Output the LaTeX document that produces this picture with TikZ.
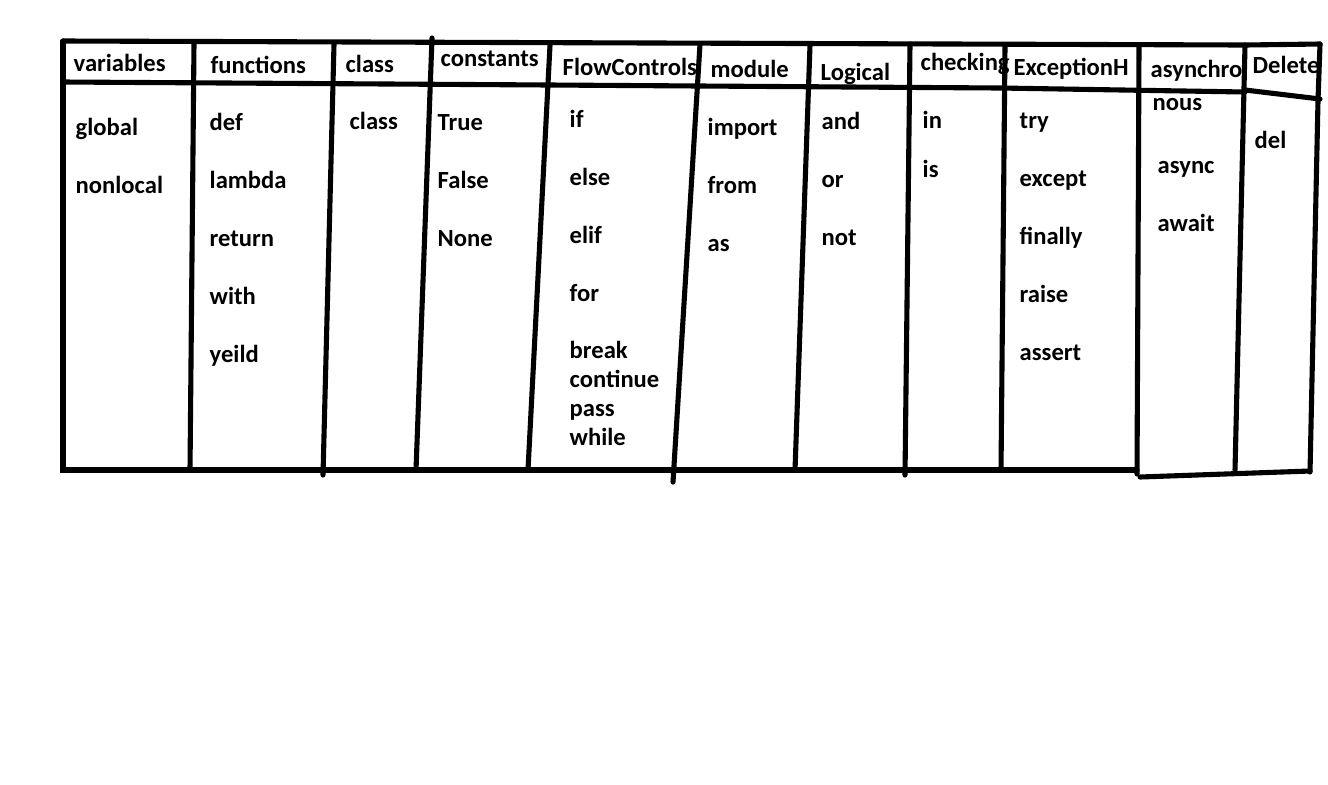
\documentclass[tikz,border=0pt]{standalone}
\usepackage{fontspec}
\setmainfont{Carlito}
\tikzset{
  word/.style={anchor=base west, inner sep=0pt, font=\bfseries\fontsize{7}{8}\selectfont},
  rule/.style={line width=1.45pt, line cap=round}
}
\begin{document}
\begin{tikzpicture}[x=0.01cm, y=-0.01cm]
    \useasboundingbox (0,0) rectangle (1328,784);
    % header row
    \node[word] (variables) at (73,71) {variables};
    \node[word] (functions) at (210,73) {functions};
    \node[word] (classhead) at (345,72) {class};
    \node[word] (constants) at (440,66) {constants};
    \node[word] (flowcontrols) at (562,75) {FlowControls};
    \node[word] (module) at (710,77) {module};
    \node[word] (logical) at (820,80) {Logical};
    \node[word] (checking) at (920,70) {checking};
    \node[word] (exceptionh) at (1013,75) {ExceptionH};
    \node[word] (asynchro) at (1150,77) {asynchro};
    \node[word] (delete) at (1252,73) {Delete};
    \node[word] (nous) at (1152,110) {nous};
    % variables
    \node[word] (global) at (75,135) {global};
    \node[word] (nonlocal) at (75,193) {nonlocal};
    % functions
    \node[word] (def) at (209,130) {def};
    \node[word] (lambda) at (209,188) {lambda};
    \node[word] (return) at (209,246) {return};
    \node[word] (with) at (209,304) {with};
    \node[word] (yeild) at (209,362) {yeild};
    % class
    \node[word] (classkw) at (349,129) {class};
    % constants
    \node[word] (true) at (437,130) {True};
    \node[word] (false) at (437,188) {False};
    \node[word] (none) at (437,246) {None};
    % flow controls
    \node[word] (if) at (569,127) {if};
    \node[word] (else) at (569,185) {else};
    \node[word] (elif) at (569,243) {elif};
    \node[word] (for) at (569,301) {for};
    \node[word] (break) at (569,358) {break};
    \node[word] (continue) at (569,387) {continue};
    \node[word] (pass) at (569,416) {pass};
    \node[word] (while) at (569,445) {while};
    % module
    \node[word] (import) at (707,135) {import};
    \node[word] (from) at (707,193) {from};
    \node[word] (as) at (707,251) {as};
    % logical
    \node[word] (and) at (821,129) {and};
    \node[word] (or) at (821,187) {or};
    \node[word] (not) at (821,245) {not};
    % checking
    \node[word] (in) at (922,128) {in};
    \node[word] (is) at (922,177) {is};
    % exception handling
    \node[word] (try) at (1019,128) {try};
    \node[word] (except) at (1019,186) {except};
    \node[word] (finally) at (1019,244) {finally};
    \node[word] (raise) at (1019,302) {raise};
    \node[word] (assert) at (1019,360) {assert};
    % asynchronous
    \node[word] (async) at (1157,173) {async};
    \node[word] (await) at (1157,231) {await};
    % delete
    \node[word] (del) at (1254,148) {del};
    % table lines
    \coordinate (tl) at (63,41);
    \coordinate (tr) at (1320,44);
    \coordinate (bl) at (63,470);
    \coordinate (br) at (1137,470);
    \draw[rule] (tl) -- (1245,45) -- (tr);
    \draw[rule] (tl) -- (bl) -- (br);
    \draw[rule] (63,82) -- (550,85) -- (1000,88) -- (1245,92);
    \draw[rule] (1245,90) -- (1320,99);
    \draw[rule] (tr) -- (1318,100) -- (1310,472);
    \draw[rule] (1140,477) -- (1310,471);
    \draw[rule] (194,43) -- (190,470);
    \draw[rule] (334,44) -- (323,475);
    \draw[rule] (432,38) -- (416,470);
    \draw[rule] (550,45) -- (528,470);
    \draw[rule] (700,44) -- (673,482);
    \draw[rule] (810,45) -- (795,470);
    \draw[rule] (910,44) -- (905,475);
    \draw[rule] (1005,45) -- (1001,470);
    \draw[rule] (1139,45) -- (1137,474);
    \draw[rule] (1245,45) -- (1235,470);
\end{tikzpicture}
\end{document}
